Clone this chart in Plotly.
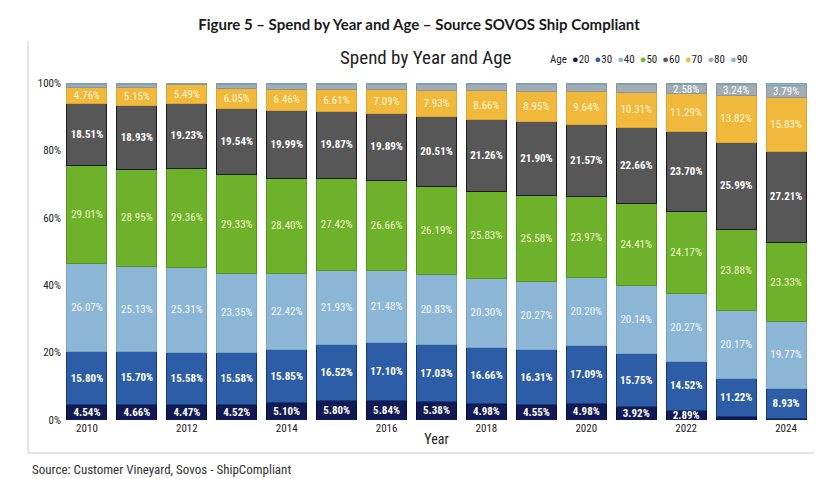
import plotly.graph_objects as go

years = list(range(2010, 2025))
ages = ["20", "30", "40", "50", "60", "70", "80", "90"]
y_ticks = [0, 20, 40, 60, 80, 100]
y_tick_labels = ["0%", "20%", "40%", "60%", "80%", "100%"]

age20 = [4.54, 4.66, 4.47, 4.52, 5.10, 5.80, 5.84, 5.38, 4.98, 4.55, 4.98, 3.92, 2.89, 1.18, 0.54]
age30 = [15.80, 15.70, 15.58, 15.58, 15.85, 16.52, 17.10, 17.03, 16.66, 16.31, 17.09, 15.75, 14.52, 11.22, 8.93]
age40 = [26.07, 25.13, 25.31, 23.35, 22.42, 21.93, 21.48, 20.83, 20.30, 20.27, 20.20, 20.14, 20.27, 20.17, 19.77]
age50 = [29.01, 28.95, 29.36, 29.33, 28.40, 27.42, 26.66, 26.19, 25.83, 25.58, 23.97, 24.41, 24.17, 23.88, 23.33]
age60 = [18.51, 18.93, 19.23, 19.54, 19.99, 19.87, 19.89, 20.51, 21.26, 21.90, 21.57, 22.66, 23.70, 25.99, 27.21]
age70 = [4.76, 5.15, 5.49, 6.05, 6.46, 6.61, 7.09, 7.93, 8.66, 8.95, 9.64, 10.31, 11.29, 13.82, 15.83]
age80 = [1.01, 1.18, 0.36, 1.33, 1.48, 1.55, 1.64, 1.83, 2.01, 2.14, 2.25, 2.41, 2.58, 3.24, 3.79]
age90 = [0.30, 0.30, 0.20, 0.30, 0.30, 0.30, 0.30, 0.30, 0.30, 0.30, 0.30, 0.40, 0.58, 0.50, 0.60]

series = [age20, age30, age40, age50, age60, age70, age80, age90]
colors = ["#111a55", "#2c5da6", "#8cb6d6", "#6db22a", "#575757", "#f1b93b", "#a3abb3", "#8fb7c6"]
edges = ["#060b30", "#163a78", "#7aa5c6", "#559620", "#1a1a1a", "#e0a52a", "#8c949c", "#7aa2b0"]
label_min = [2.5, 2.5, 2.5, 2.5, 2.5, 2.5, 2.5, 99]
bold = [True, True, False, False, True, False, False, False]
txtcol = ["#ffffff", "#ffffff", "#f4f8fb", "#f3f7c8", "#ffffff", "#fff4d6", "#ffffff", "#ffffff"]

NARROW = "Liberation Sans Narrow, Arial Narrow, Roboto Condensed, Roboto, sans-serif"

fig = go.Figure()
for name, vals, c, e, lm, b, tc in zip(ages, series, colors, edges, label_min, bold, txtcol):
    texts = []
    for v in vals:
        if v >= lm:
            t = f"{v:.2f}%"
            texts.append(f"<b>{t}</b>" if b else t)
        else:
            texts.append("")
    fig.add_trace(go.Bar(
        x=years, y=vals, name=name,
        marker=dict(color=c, line=dict(color=e, width=1)),
        text=texts, textposition="inside", insidetextanchor="middle",
        textfont=dict(family=NARROW, size=11, color=tc),
        constraintext="none", showlegend=False,
    ))

# compact legend as text
leg = "Age  " + "  ".join(
    f"<span style='color:{c}'>●</span>{a}" for a, c in zip(ages, colors)
)

# plot area geometry
L, R, T, B = 54, 19, 75, 67
W, H = 822, 479
pw, ph = W - L - R, H - T - B

def px_x(px):
    return (px - L) / pw

def px_y(py):
    return (H - B - py) / ph

fig.update_layout(
    width=W, height=H,
    margin=dict(l=L, r=R, t=T, b=B),
    paper_bgcolor="white", plot_bgcolor="white",
    barmode="stack", bargap=0.2,
    uniformtext=dict(minsize=10, mode="show"),
    title=dict(
        text="<b>Figure 5 – Spend by Year and Age – Source SOVOS Ship Compliant</b>",
        x=0.5, xanchor="center", y=1 - 17 / H, yanchor="middle",
        font=dict(family="Lato, Open Sans, sans-serif", size=15, color="#1a1a1a"),
    ),
    xaxis=dict(
        range=[2009.5, 2024.5], tickvals=years[::2], ticktext=[str(y) for y in years[::2]],
        showgrid=False, zeroline=False, showline=False, ticks="",
        tickfont=dict(family=NARROW, size=11, color="#222222"),
        title=dict(text="Year", font=dict(family=NARROW, size=14, color="#222222"), standoff=0),
    ),
    yaxis=dict(
        range=[0, 100], tickvals=y_ticks, ticktext=y_tick_labels,
        showgrid=False, zeroline=False, showline=False, ticks="",
        tickfont=dict(family=NARROW, size=11, color="#222222"),
    ),
    shapes=[
        dict(type="line", xref="paper", yref="paper",
             x0=px_x(20), x1=px_x(20), y0=px_y(33), y1=px_y(445),
             line=dict(color="#dcdcdc", width=1.5)),
        dict(type="line", xref="paper", yref="paper",
             x0=px_x(20), x1=px_x(810), y0=px_y(445), y1=px_y(445),
             line=dict(color="#dcdcdc", width=1.5)),
    ],
    annotations=[
        dict(text="Spend by Year and Age", xref="paper", yref="paper",
             x=px_x(418), y=px_y(49), xanchor="center", yanchor="middle", showarrow=False,
             font=dict(family=NARROW, size=19, color="#222222")),
        dict(text=leg, xref="paper", yref="paper",
             x=px_x(540), y=px_y(52), xanchor="left", yanchor="middle", showarrow=False,
             font=dict(family=NARROW, size=11, color="#222222")),
        dict(text="Source: Customer Vineyard, Sovos - ShipCompliant", xref="paper", yref="paper",
             x=px_x(22), y=px_y(461), xanchor="left", yanchor="middle", showarrow=False,
             font=dict(family=NARROW, size=13, color="#333333")),
    ],
)

fig.write_html("out.html")
